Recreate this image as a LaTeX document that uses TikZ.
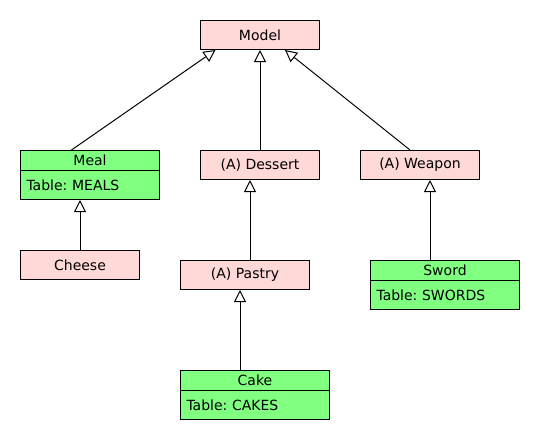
\documentclass[tikz,border=0pt]{standalone}
\usepackage{fontspec}
\setmainfont{DejaVu Sans}
\usetikzlibrary{arrows.meta}

\definecolor{abstracto}{RGB}{255,216,216}
\definecolor{tabla}{RGB}{128,255,128}

\tikzset{
    clase/.style={draw, line width=1pt, fill=abstracto, minimum height=29pt,
        inner sep=0pt, font=\fontsize{14}{16}\selectfont},
    cabecera/.style={draw, line width=1pt, fill=tabla, minimum height=20pt,
        inner sep=0pt, font=\fontsize{14}{16}\selectfont},
    cuerpo/.style={draw, line width=1pt, fill=tabla, minimum height=29pt,
        inner sep=0pt, align=left, font=\fontsize{14}{16}\selectfont},
    hereda/.style={line width=1pt, -{Triangle[open, length=12pt, width=12pt, fill=white]}}
}

\begin{document}
\frenchspacing
\begin{tikzpicture}[x=1pt, y=-1pt]
    \useasboundingbox (0,0) rectangle (540,440);

    % Clase base
    \node[clase, minimum width=119pt] (model) at (260,35) {Model};

    % Segundo nivel
    \node[cabecera, minimum width=139pt] (meal) at (90,160.5) {Meal};
    \node[cuerpo, minimum width=139pt, text width=127pt] (mealtab) at (90,185) {Table: MEALS};
    \node[clase, minimum width=119pt] (dessert) at (260,165) {(A) Dessert};
    \node[clase, minimum width=119pt] (weapon) at (420,165) {(A) Weapon};

    % Tercer nivel
    \node[clase, minimum width=119pt] (cheese) at (80,265) {Cheese};
    \node[clase, minimum width=129pt] (pastry) at (245,275) {(A) Pastry};
    \node[cabecera, minimum width=149pt] (sword) at (445,270.5) {Sword};
    \node[cuerpo, minimum width=149pt, text width=137pt] (swordtab) at (445,295) {Table: SWORDS};

    % Cuarto nivel
    \node[cabecera, minimum width=149pt] (cake) at (255,380.5) {Cake};
    \node[cuerpo, minimum width=149pt, text width=137pt] (caketab) at (255,405) {Table: CAKES};

    % Puntos de anclaje de las flechas
    \coordinate (m1) at ([xshift=-44.5pt]model.south);
    \coordinate (m2) at (model.south);
    \coordinate (m3) at ([xshift=25pt]model.south);
    \coordinate (me) at ([xshift=-18.5pt]meal.north);
    \coordinate (de) at (dessert.north);
    \coordinate (we) at ([xshift=-10pt]weapon.north);
    \coordinate (mb) at ([xshift=-10pt]mealtab.south);
    \coordinate (ch) at (cheese.north);
    \coordinate (db) at ([xshift=-10pt]dessert.south);
    \coordinate (pa) at ([xshift=5pt]pastry.north);
    \coordinate (pb) at ([xshift=-5pt]pastry.south);
    \coordinate (ca) at ([xshift=-15pt]cake.north);
    \coordinate (wb) at ([xshift=10pt]weapon.south);
    \coordinate (sw) at ([xshift=-15pt]sword.north);

    % Herencia
    \foreach \hijo/\padre in {me/m1, de/m2, we/m3, ch/mb, pa/db, ca/pb, sw/wb}
        \draw[hereda] (\hijo) -- (\padre);
\end{tikzpicture}
\end{document}
